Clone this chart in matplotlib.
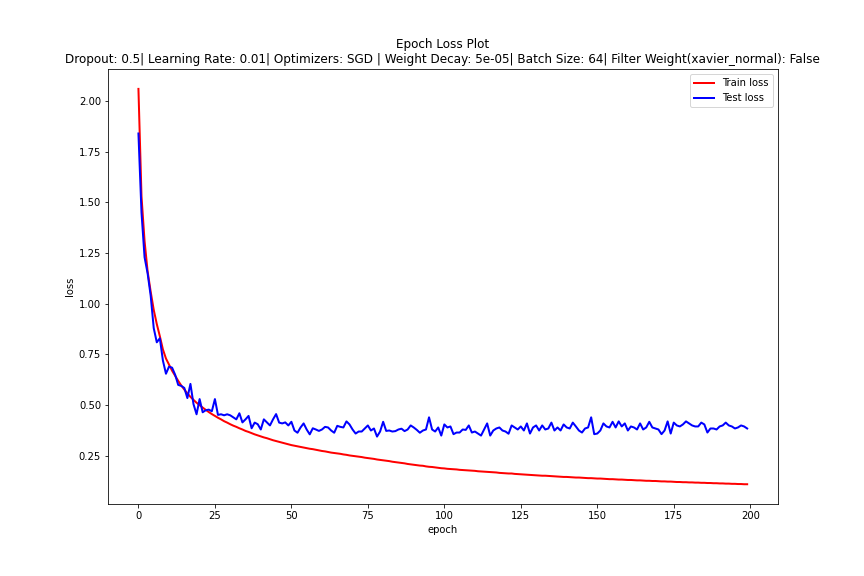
import matplotlib
matplotlib.use('Agg')
import matplotlib.pyplot as plt
import numpy as np

# loss values (200 epochs)
train_loss = [
    2.06, 1.53, 1.31, 1.16, 1.06, 0.97, 0.90, 0.84, 0.775, 0.73,
    0.70, 0.67, 0.645, 0.62, 0.597, 0.577, 0.558, 0.541, 0.526, 0.512,
    0.50, 0.488, 0.477, 0.466, 0.456, 0.447, 0.438, 0.43, 0.421, 0.414,
    0.406, 0.399, 0.393, 0.386, 0.38, 0.373, 0.368, 0.362, 0.356, 0.351,
    0.346, 0.341, 0.337, 0.332, 0.327, 0.323, 0.319, 0.315, 0.311, 0.307,
    0.303, 0.300, 0.297, 0.294, 0.291, 0.288, 0.285, 0.283, 0.280, 0.277,
    0.274, 0.272, 0.269, 0.266, 0.264, 0.262, 0.26, 0.257, 0.255, 0.252,
    0.25, 0.248, 0.246, 0.244, 0.241, 0.239, 0.237, 0.235, 0.232, 0.23,
    0.228, 0.226, 0.224, 0.221, 0.219, 0.217, 0.215, 0.213, 0.21, 0.208,
    0.206, 0.204, 0.202, 0.201, 0.198, 0.196, 0.195, 0.193, 0.191, 0.189,
    0.188, 0.186, 0.185, 0.184, 0.183, 0.181, 0.18, 0.179, 0.178, 0.177,
    0.176, 0.174, 0.173, 0.172, 0.171, 0.17, 0.169, 0.168, 0.166, 0.165,
    0.164, 0.163, 0.163, 0.161, 0.16, 0.159, 0.158, 0.157, 0.156, 0.155,
    0.154, 0.153, 0.152, 0.152, 0.151, 0.15, 0.149, 0.148, 0.147, 0.146,
    0.146, 0.145, 0.144, 0.143, 0.143, 0.142, 0.141, 0.14, 0.14, 0.139,
    0.138, 0.138, 0.137, 0.136, 0.135, 0.135, 0.134, 0.133, 0.133, 0.132,
    0.131, 0.131, 0.130, 0.129, 0.129, 0.128, 0.127, 0.127, 0.126, 0.126,
    0.125, 0.124, 0.124, 0.123, 0.123, 0.122, 0.121, 0.121, 0.12, 0.12,
    0.119, 0.119, 0.118, 0.118, 0.117, 0.117, 0.116, 0.116, 0.115, 0.115,
    0.114, 0.114, 0.113, 0.113, 0.112, 0.112, 0.111, 0.111, 0.11, 0.11,
]

test_loss = [
    1.84, 1.45, 1.23, 1.15, 1.04, 0.88, 0.81, 0.83, 0.72, 0.655,
    0.69, 0.685, 0.65, 0.60, 0.595, 0.585, 0.535, 0.605, 0.505, 0.455,
    0.53, 0.465, 0.475, 0.478, 0.47, 0.53, 0.452, 0.455, 0.45, 0.455,
    0.45, 0.44, 0.43, 0.46, 0.415, 0.43, 0.447, 0.386, 0.414, 0.406,
    0.38, 0.43, 0.415, 0.40, 0.43, 0.456, 0.414, 0.41, 0.415, 0.40,
    0.418, 0.375, 0.364, 0.39, 0.41, 0.38, 0.356, 0.386, 0.38, 0.373,
    0.38, 0.393, 0.39, 0.375, 0.364, 0.398, 0.393, 0.39, 0.42, 0.405,
    0.38, 0.36, 0.37, 0.37, 0.385, 0.40, 0.375, 0.385, 0.345, 0.37,
    0.418, 0.373, 0.375, 0.37, 0.372, 0.38, 0.384, 0.372, 0.38, 0.40,
    0.39, 0.378, 0.364, 0.375, 0.38, 0.44, 0.38, 0.37, 0.39, 0.35,
    0.405, 0.39, 0.395, 0.357, 0.365, 0.365, 0.38, 0.378, 0.40, 0.365,
    0.37, 0.36, 0.35, 0.38, 0.41, 0.35, 0.375, 0.385, 0.39, 0.375,
    0.37, 0.359, 0.40, 0.39, 0.38, 0.395, 0.375, 0.41, 0.36, 0.39,
    0.40, 0.375, 0.40, 0.38, 0.385, 0.414, 0.375, 0.39, 0.375, 0.405,
    0.39, 0.385, 0.414, 0.395, 0.375, 0.365, 0.385, 0.39, 0.44, 0.357,
    0.36, 0.375, 0.41, 0.395, 0.39, 0.418, 0.39, 0.42, 0.395, 0.41,
    0.375, 0.395, 0.39, 0.38, 0.41, 0.38, 0.39, 0.418, 0.39, 0.385,
    0.38, 0.357, 0.375, 0.42, 0.36, 0.414, 0.40, 0.395, 0.405, 0.42,
    0.41, 0.40, 0.395, 0.395, 0.414, 0.405, 0.365, 0.385, 0.385, 0.38,
    0.395, 0.40, 0.414, 0.40, 0.395, 0.385, 0.39, 0.40, 0.395, 0.385,
]

epochs = np.arange(len(train_loss))

title = ('Epoch Loss Plot\n'
         'Dropout: 0.5| Learning Rate: 0.01| Optimizers: SGD | Weight Decay: 5e-05| '
         'Batch Size: 64| Filter Weight(xavier_normal): False')

fig, ax = plt.subplots(figsize=(12, 8), dpi=72)
fig.subplots_adjust(left=0.125, right=0.9, top=0.88, bottom=0.125)

ax.plot(epochs, train_loss, color='red', linewidth=2, label='Train loss')
ax.plot(epochs, test_loss, color='blue', linewidth=2, label='Test loss')

ax.set_title(title, fontsize=12)
ax.set_xlabel('epoch')
ax.set_ylabel('loss')
ax.legend(loc='upper right')

fig.savefig('out.png', dpi=72)
